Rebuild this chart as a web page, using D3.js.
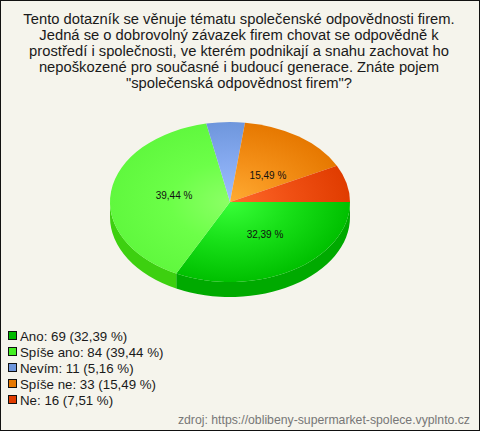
<!DOCTYPE html>
<html><head><meta charset="utf-8">
<script src="https://cdn.jsdelivr.net/npm/d3@7"></script>
<style>html,body{margin:0;padding:0;background:#f5f4ec}svg{display:block}text{font-family:"Liberation Sans",Arial,sans-serif}</style>
</head><body><svg id="c" width="480" height="431"></svg>
<script>
const titleLines = ["Tento dotazník se věnuje tématu společenské odpovědnosti firem.","Jedná se o dobrovolný závazek firem chovat se odpovědně k","prostředí i společnosti, ve kterém podnikají a snahu zachovat ho","nepoškozené pro současné i budoucí generace. Znáte pojem","\"společenská odpovědnost firem\"?"];
const categories = ["Ano","Spíše ano","Nevím","Spíše ne","Ne"];
const counts = [69,84,11,33,16];
const percents = ["32,39","39,44","5,16","15,49","7,51"];
const sliceLabelled = [true,true,false,true,false];
const innerColors = ["#38ff38","#8cff66","#9dbfff","#ffab33","#ff6a2a"];
const midColors = ["#18e018","#6cff48","#86aaf0","#f49018","#f05014"];
const outerColors = ["#00c000","#60f83e","#6e96dc","#e67800","#e03c00"];
const sideColors = ["#00aa00","#3dd010","#5a80c4","#c86800","#c03000"];
const legendColors = ["#00bb00","#44ee22","#6e96dc","#e67800","#e03c00"];
const source = "zdroj: https://oblibeny-supermarket-spolece.vyplnto.cz";

const W=480,H=431,cx=230,cy=202,rx=120,ry=80,depth=15;
const svg=d3.select("#c");
svg.append("rect").attr("x",.5).attr("y",.5).attr("width",W-1).attr("height",H-1).attr("fill","#f5f4ec").attr("stroke","#111");

svg.append("g").selectAll("text").data(titleLines).join("text")
 .attr("x",W/2-1).attr("y",(d,i)=>24+i*16).attr("text-anchor","middle").attr("font-size",14.75).attr("fill","#1a1a1a").text(d=>d);

const defs=svg.append("defs");
categories.forEach((c,i)=>{
 const g=defs.append("radialGradient").attr("id","g"+i).attr("gradientUnits","userSpaceOnUse")
  .attr("cx",0).attr("cy",0).attr("r",rx);
 g.append("stop").attr("offset",0).attr("stop-color",innerColors[i]);
 g.append("stop").attr("offset",.5).attr("stop-color",midColors[i]);
 g.append("stop").attr("offset",1).attr("stop-color",outerColors[i]);
});

const pie=d3.pie().sort(null).startAngle(Math.PI/2).endAngle(Math.PI/2+2*Math.PI)(counts);
const arc=d3.arc().innerRadius(0).outerRadius(rx);
const k=ry/rx;
const px=a=>Math.sin(a)*rx, py=a=>-Math.cos(a)*ry;

const wall=svg.append("g").attr("transform",`translate(${cx},${cy})`);
pie.forEach((p,i)=>{
 const a0=Math.max(p.startAngle,Math.PI/2), a1=Math.min(p.endAngle,3*Math.PI/2);
 if(a1<=a0) return;
 const d=`M${px(a0)},${py(a0)}A${rx},${ry} 0 0 1 ${px(a1)},${py(a1)}L${px(a1)},${py(a1)+depth}A${rx},${ry} 0 0 0 ${px(a0)},${py(a0)+depth}Z`;
 wall.append("path").attr("d",d).attr("fill",sideColors[i]);
});

svg.append("g").attr("transform",`translate(${cx},${cy}) scale(1,${k})`)
 .selectAll("path").data(pie).join("path").attr("d",arc).attr("fill",(d,i)=>`url(#g${i})`);

const labelNudge = {0:0,1:-3,3:2};
svg.append("g").attr("transform",`translate(${cx},${cy})`).selectAll("text")
 .data(pie.filter((d,i)=>sliceLabelled[i])).join("text")
 .attr("x",d=>{const c=(d.startAngle+d.endAngle)/2;return Math.sin(c)*rx*.5+3.5;})
 .attr("y",d=>{const c=(d.startAngle+d.endAngle)/2;return -Math.cos(c)*37+1+4+labelNudge[d.index];})
 .attr("text-anchor","middle").attr("font-size",10).attr("fill","#111")
 .text(d=>percents[d.index]+" %");

const lg=svg.append("g").selectAll("g").data(categories).join("g")
 .attr("transform",(d,i)=>`translate(0,${336+i*16})`);
lg.append("rect").attr("x",8.5).attr("y",-4.5).attr("width",8).attr("height",8)
 .attr("fill",(d,i)=>legendColors[i]).attr("stroke","#111");
lg.append("text").attr("x",20).attr("y",4.5).attr("font-size",13.3).attr("fill","#1a1a1a")
 .text((d,i)=>`${d}: ${counts[i]} (${percents[i]} %)`);

svg.append("text").attr("x",470).attr("y",424).attr("text-anchor","end").attr("font-size",12.25).attr("fill","#777").text(source);
</script></body></html>
